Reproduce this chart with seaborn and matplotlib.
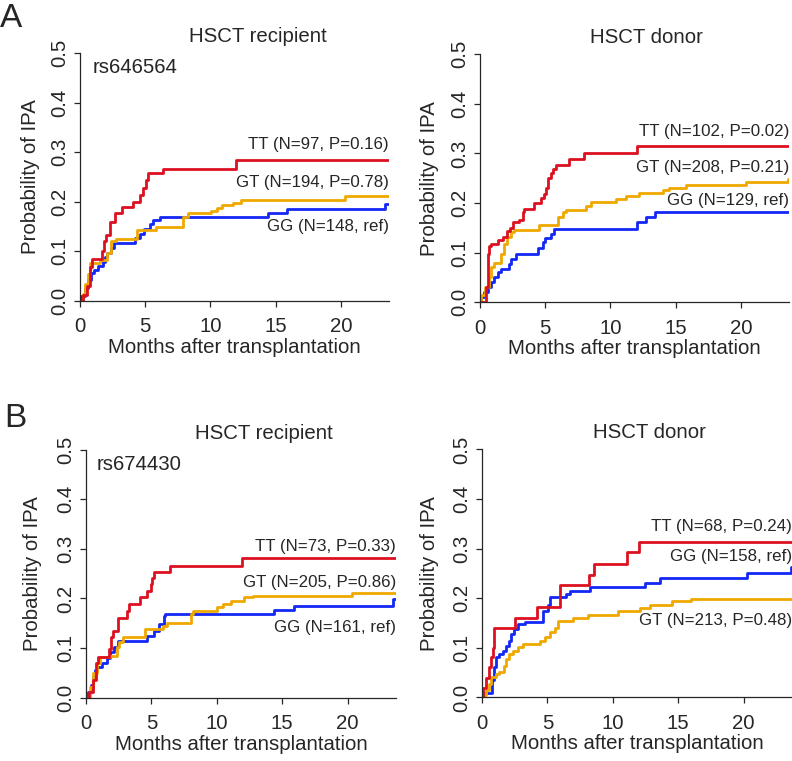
import numpy as np
import pandas as pd
import matplotlib
matplotlib.use("Agg")
import matplotlib.pyplot as plt
import seaborn as sns

# ---- data (months, cumulative probability of IPA) ----
# A, recipient, rs646564
a_rec_tt_t = [0, 0.25, 0.5, 0.75, 0.9, 1.7, 1.85, 2.0, 2.3, 2.7, 3.2, 4.1, 4.6, 4.85, 5.1, 5.25, 6.4, 12.0, 24]
a_rec_tt_p = [0, 0.013, 0.03, 0.069, 0.084, 0.1, 0.12, 0.133, 0.16, 0.177, 0.19, 0.2, 0.214, 0.227, 0.244, 0.257, 0.267, 0.284, 0.284]
a_rec_gt_t = [0, 0.2, 0.4, 0.6, 0.8, 1.5, 2.1, 2.4, 2.76, 4.4, 5.8, 7.9, 8.3, 10.05, 10.5, 10.9, 11.7, 12.35, 20.3, 24]
a_rec_gt_p = [0, 0.015, 0.035, 0.055, 0.076, 0.083, 0.096, 0.12, 0.124, 0.143, 0.149, 0.169, 0.177, 0.182, 0.187, 0.194, 0.197, 0.204, 0.212, 0.212]
a_rec_gg_t = [0, 0.1, 0.35, 0.6, 0.85, 1.1, 1.35, 1.74, 1.9, 2.1, 2.4, 2.6, 4.2, 4.6, 4.9, 5.35, 5.6, 6.1, 14.4, 15.85, 23.4, 24]
a_rec_gg_p = [0, 0.01, 0.026, 0.042, 0.056, 0.062, 0.07, 0.079, 0.089, 0.096, 0.106, 0.116, 0.126, 0.136, 0.146, 0.156, 0.163, 0.17, 0.178, 0.186, 0.195, 0.195]

# A, donor
a_don_tt_t = [0, 0.46, 0.6, 0.7, 0.85, 1.35, 1.74, 2.1, 2.3, 2.5, 3.0, 3.27, 3.4, 4.16, 4.67, 4.93, 5.05, 5.2, 5.45, 5.57, 5.82, 6.85, 8.0, 12.0, 24]
a_don_tt_p = [0, 0.031, 0.098, 0.113, 0.118, 0.125, 0.131, 0.143, 0.15, 0.162, 0.166, 0.181, 0.189, 0.2, 0.211, 0.218, 0.231, 0.251, 0.261, 0.268, 0.277, 0.288, 0.301, 0.315, 0.315]
a_don_gt_t = [0, 0.1, 0.4, 0.7, 0.85, 1.1, 1.6, 1.86, 2.1, 2.4, 2.63, 4.55, 5.95, 6.33, 6.6, 8.1, 8.5, 10.4, 11.2, 12.2, 14.0, 14.5, 15.8, 20.4, 23.6, 24]
a_don_gt_p = [0, 0.015, 0.031, 0.051, 0.071, 0.079, 0.098, 0.118, 0.131, 0.141, 0.145, 0.155, 0.171, 0.181, 0.186, 0.195, 0.203, 0.208, 0.215, 0.221, 0.226, 0.231, 0.236, 0.243, 0.248, 0.248]
a_don_gg_t = [0, 0.1, 0.3, 0.6, 0.85, 1.1, 1.35, 1.6, 2.25, 2.4, 2.76, 4.42, 4.8, 4.95, 5.45, 5.7, 12.0, 12.7, 13.4, 24]
a_don_gg_p = [0, 0.011, 0.021, 0.031, 0.041, 0.051, 0.061, 0.068, 0.078, 0.088, 0.098, 0.11, 0.121, 0.13, 0.138, 0.148, 0.161, 0.171, 0.181, 0.181]

# B, recipient, rs674430
b_rec_tt_t = [0, 0.25, 0.55, 0.77, 0.95, 1.75, 1.9, 2.1, 2.48, 3.1, 3.25, 4.1, 4.7, 4.96, 5.05, 5.17, 6.45, 11.95, 24]
b_rec_tt_p = [0, 0.012, 0.035, 0.069, 0.082, 0.099, 0.122, 0.135, 0.16, 0.175, 0.189, 0.202, 0.215, 0.229, 0.242, 0.253, 0.265, 0.282, 0.282]
b_rec_gt_t = [0, 0.3, 0.56, 0.82, 1.07, 1.85, 2.35, 2.55, 2.8, 4.5, 5.9, 6.2, 8.0, 8.2, 10.0, 10.5, 11.05, 12.07, 12.8, 20.3, 24]
b_rec_gt_p = [0, 0.022, 0.049, 0.069, 0.082, 0.085, 0.102, 0.112, 0.122, 0.139, 0.145, 0.151, 0.169, 0.175, 0.182, 0.189, 0.195, 0.202, 0.205, 0.212, 0.212]
b_rec_gg_t = [0, 0.18, 0.36, 0.56, 0.7, 0.87, 1.2, 1.59, 1.84, 2.15, 2.48, 4.65, 5.17, 5.55, 5.93, 6.06, 14.4, 15.9, 23.45, 24]
b_rec_gg_p = [0, 0.012, 0.025, 0.042, 0.055, 0.062, 0.069, 0.079, 0.092, 0.102, 0.115, 0.125, 0.135, 0.149, 0.165, 0.169, 0.177, 0.185, 0.199, 0.199]

# B, donor
b_don_tt_t = [0, 0.1, 0.3, 0.56, 0.69, 0.82, 0.9, 0.95, 2.56, 4.2, 5.98, 8.18, 8.57, 11.1, 12.0, 24]
b_don_tt_p = [0, 0.02, 0.04, 0.061, 0.081, 0.1, 0.121, 0.141, 0.161, 0.182, 0.226, 0.247, 0.27, 0.294, 0.314, 0.314]
b_don_gt_t = [0, 0.1, 0.3, 0.5, 0.7, 1.07, 1.33, 1.71, 1.84, 2.1, 2.35, 2.74, 3.12, 4.4, 4.78, 5.17, 5.55, 5.8, 6.96, 8.1, 10.4, 12.07, 12.84, 14.5, 16.0, 24]
b_don_gt_p = [0, 0.005, 0.015, 0.028, 0.041, 0.047, 0.051, 0.064, 0.078, 0.088, 0.094, 0.101, 0.108, 0.114, 0.121, 0.131, 0.141, 0.155, 0.161, 0.167, 0.174, 0.181, 0.186, 0.194, 0.199, 0.199]
b_don_gg_t = [0, 0.18, 0.77, 0.95, 1.07, 1.33, 1.59, 1.84, 2.05, 2.22, 2.48, 2.74, 3.25, 4.7, 5.04, 5.22, 6.45, 6.7, 8.23, 12.45, 13.6, 20.26, 23.6, 24]
b_don_gg_p = [0, 0.008, 0.035, 0.061, 0.081, 0.088, 0.094, 0.104, 0.114, 0.128, 0.138, 0.148, 0.153, 0.174, 0.186, 0.202, 0.209, 0.215, 0.222, 0.231, 0.241, 0.25, 0.264, 0.264]

titles = ["HSCT recipient", "HSCT donor", "HSCT recipient", "HSCT donor"]
snp_labels = ["rs646564", None, "rs674430", None]
curve_labels = [
    {"TT": "TT (N=97, P=0.16)", "GT": "GT (N=194, P=0.78)", "GG": "GG (N=148, ref)"},
    {"TT": "TT (N=102, P=0.02)", "GT": "GT (N=208, P=0.21)", "GG": "GG (N=129, ref)"},
    {"TT": "TT (N=73, P=0.33)", "GT": "GT (N=205, P=0.86)", "GG": "GG (N=161, ref)"},
    {"TT": "TT (N=68, P=0.24)", "GT": "GT (N=213, P=0.48)", "GG": "GG (N=158, ref)"},
]
label_y = [
    {"TT": 0.315, "GT": 0.238, "GG": 0.150},
    {"TT": 0.345, "GT": 0.271, "GG": 0.205},
    {"TT": 0.305, "GT": 0.232, "GG": 0.142},
    {"TT": 0.345, "GT": 0.155, "GG": 0.285},
]

series = [
    {"TT": (a_rec_tt_t, a_rec_tt_p), "GT": (a_rec_gt_t, a_rec_gt_p), "GG": (a_rec_gg_t, a_rec_gg_p)},
    {"TT": (a_don_tt_t, a_don_tt_p), "GT": (a_don_gt_t, a_don_gt_p), "GG": (a_don_gg_t, a_don_gg_p)},
    {"TT": (b_rec_tt_t, b_rec_tt_p), "GT": (b_rec_gt_t, b_rec_gt_p), "GG": (b_rec_gg_t, b_rec_gg_p)},
    {"TT": (b_don_tt_t, b_don_tt_p), "GT": (b_don_gt_t, b_don_gt_p), "GG": (b_don_gg_t, b_don_gg_p)},
]

palette = {"TT": "#DC1020", "GT": "#EFA800", "GG": "#1428F5"}

sns.set_style("ticks")
plt.rcParams["font.family"] = ["Liberation Sans", "DejaVu Sans"]

fig = plt.figure(figsize=(7.92, 7.61), dpi=100)

# axes boxes in figure fractions [left, bottom, width, height]
boxes = [
    [0.1010, 0.6045, 0.3902, 0.3259],
    [0.6061, 0.6028, 0.3902, 0.3259],
    [0.1086, 0.0832, 0.3914, 0.3259],
    [0.6086, 0.0835, 0.3914, 0.3259],
]
title_x = [0.576, 0.537, 0.574, 0.539]
ylabel_x = [-0.129, -0.133, -0.143, -0.140]
snp_x = [0.97, None, 0.82, None]

for i, box in enumerate(boxes):
    ax = fig.add_axes(box)
    frames = []
    for g in ["GG", "GT", "TT"]:
        t, p = series[i][g]
        frames.append(pd.DataFrame({"month": t, "prob": p, "genotype": g}))
    df = pd.concat(frames, ignore_index=True)

    sns.lineplot(data=df, x="month", y="prob", hue="genotype", palette=palette,
                 drawstyle="steps-post", estimator=None, sort=False,
                 linewidth=2.0, legend=False, ax=ax)

    ax.set_xlim(0, 23.7)
    ax.set_ylim(0, 0.5)
    ax.set_xticks([0, 5, 10, 15, 20])
    ax.set_yticks([0.0, 0.1, 0.2, 0.3, 0.4, 0.5])
    ax.set_yticklabels(["0.0", "0.1", "0.2", "0.3", "0.4", "0.5"])
    sns.despine(ax=ax)
    for s in ["left", "bottom"]:
        ax.spines[s].set_linewidth(0.9)
    ax.tick_params(direction="out", length=4.3, width=0.9, labelsize=14.7, pad=7.5)
    ax.tick_params(axis="y", pad=3.5)
    for lbl in ax.get_yticklabels():
        lbl.set_rotation(90)
        lbl.set_va("center")

    ax.set_xlabel("Months after transplantation", fontsize=14.7)
    ax.xaxis.set_label_coords(0.5, -0.149)
    ax.set_ylabel("Probability of IPA", fontsize=14.7)
    ax.yaxis.set_label_coords(ylabel_x[i], 0.5)

    ax.text(title_x[i], 1.045, titles[i], transform=ax.transAxes,
            ha="center", va="baseline", fontsize=14.7)

    if snp_labels[i]:
        ax.text(snp_x[i], 0.47, snp_labels[i], ha="left", va="center", fontsize=14.7)

    for g in ["TT", "GT", "GG"]:
        ax.text(1.0, label_y[i][g], curve_labels[i][g], transform=ax.get_yaxis_transform(),
                ha="right", va="center", fontsize=12.2)

fig.text(0.0, 0.9645, "A", fontsize=24, ha="left", va="baseline")
fig.text(0.005, 0.4393, "B", fontsize=24, ha="left", va="baseline")

fig.savefig("out.png", dpi=100)
